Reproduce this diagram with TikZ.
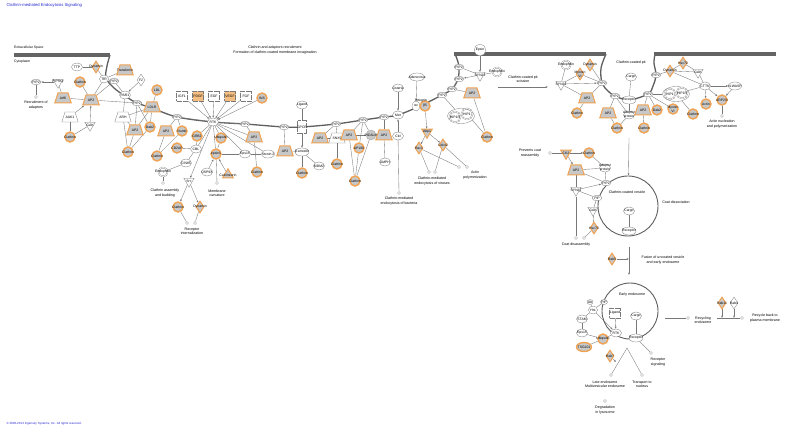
\documentclass[tikz,border=0pt]{standalone}
\usepackage{fontspec}
\setmainfont{Liberation Sans}
\usepackage{tikz}
\usetikzlibrary{positioning, arrows.meta, shapes.geometric, backgrounds}
\definecolor{orgC}{RGB}{240,162,82}
\definecolor{ligC}{RGB}{244,190,130}
\definecolor{gryC}{RGB}{200,200,200}
\definecolor{lineC}{RGB}{120,120,120}
\definecolor{memC}{RGB}{95,95,95}
\definecolor{barC}{RGB}{100,100,100}
\definecolor{ttlC}{RGB}{40,40,210}

\begin{document}
\begin{tikzpicture}[
  x=1pt, y=-1pt,
  font=\fontsize{3.4}{3.9}\selectfont,
  >={Latex[length=2.2pt,width=1.8pt]},
  lbl/.style={inner sep=0pt, align=center, text=black},
  note/.style={lbl, font=\fontsize{3.6}{4.4}\selectfont},
  pip/.style={ellipse, draw=lineC, line width=0.3pt, fill=white, minimum width=10pt, minimum height=5.5pt, inner sep=0pt, label={[lbl]center:#1}},
  pip/.default=PIP2,
  wcirc/.style={ellipse, draw=lineC, line width=0.3pt, fill=white, minimum width=11pt, minimum height=8pt, inner sep=0pt, label={[lbl]center:#1}},
  dcirc/.style={circle, draw=lineC, line width=0.3pt, double=white, double distance=0.7pt, minimum size=9pt, inner sep=0pt, label={[lbl]center:#1}},
  ocirc/.style={circle, draw=orgC, line width=1.4pt, fill=gryC, minimum size=10pt, inner sep=0pt, label={[lbl]center:#1}},
  gcirc/.style={circle, draw=lineC!70, line width=0.3pt, fill=gryC, minimum size=10pt, inner sep=0pt, label={[lbl]center:#1}},
  otrap/.style={trapezium, trapezium left angle=72, trapezium right angle=72, draw=orgC, line width=1pt, fill=gryC, minimum width=9pt, minimum height=10pt, inner sep=1pt, label={[lbl]center:#1}},
  wtrap/.style={otrap=#1, draw=lineC, line width=0.3pt, fill=white},
  odiam/.style={diamond, draw=orgC, line width=1pt, fill=gryC, minimum width=8pt, minimum height=12pt, inner sep=0pt, label={[lbl]center:#1}},
  wdiam/.style={odiam=#1, draw=lineC, line width=0.3pt, fill=white},
  otri/.style={isosceles triangle, isosceles triangle apex angle=60, shape border rotate=270, draw=orgC, line width=1pt, fill=gryC, minimum width=10pt, minimum height=9pt, inner sep=1pt, label={[lbl]center:#1}},
  wtri/.style={otri=#1, draw=lineC, line width=0.3pt, fill=white},
  otriup/.style={otri=#1, shape border rotate=90},
  lig/.style={rectangle, draw=lineC, dash pattern=on 0.6pt off 0.6pt, line width=0.3pt, fill=white, minimum width=11pt, minimum height=10pt, inner sep=0pt, label={[lbl]center:#1}},
  olig/.style={lig=#1, fill=ligC},
  grp/.style={ellipse, draw=lineC, line width=0.3pt, fill=white},
  fn/.style={circle, draw=lineC, line width=0.3pt, fill=white, minimum size=3pt, inner sep=0pt},
  vesc/.style={circle, draw=memC, line width=0.9pt},
  memb/.style={draw=memC, line width=1.3pt},
  ln/.style={draw=lineC, line width=0.35pt},
  ar/.style={ln, ->}
]
\useasboundingbox (0,0) rectangle (787,430);
% title, compartments, footer
\node[anchor=west, text=ttlC, font=\fontsize{4.2}{5}\selectfont] (title) at (3,5) {Clathrin-mediated Endocytosis Signaling};
\node[anchor=west, text=ttlC, font=\fontsize{3}{4}\selectfont] (copy) at (3,424) {© 2000-2013 Ingenuity Systems, Inc. All rights reserved.};
\node[lbl, anchor=west] (ecs) at (14,48) {Extracellular Space};
\node[lbl, anchor=west] (cyt) at (14,62) {Cytoplasm};
\node[note] (head) at (275,50) {Clathrin and adaptors recruitment\\Formation of clathrin-coated membrane invagination};
\fill[barC] (14,53) rectangle (110,57);
\fill[barC] (454,52) rectangle (606,56);
\fill[barC] (654,52) rectangle (776,56);

% left: transferrin, PAR1, LDL
\node[wcirc=TTP] (ttp) at (77,67) {};
\node[odiam=Dynamin] (dynA) at (96,67) {};
\node[otrap=Transferrin, minimum width=13pt] (trf) at (125,70) {};
\node[wcirc=TfR, minimum width=9pt] (tfr) at (104,79) {};
\node[pip] (pipA) at (114,81) {};
\node[wdiam=F2] (f2) at (141,80) {};
\node[wcirc=PAR1] (par1) at (125,95) {};
\node[ocirc=LDL] (ldl) at (157,90) {};
\node[pip] (pipB) at (137,103) {};
\node[otrap=LDLR] (ldlr) at (152,107) {};
\node[wtrap=ARH] (arh) at (123,117) {};
\node[otrap=AP2] (ap2a) at (91,100) {};
\node[ocirc=Clathrin] (clA) at (80,82) {};
\node[otrap=Arf6] (arf6) at (63,98) {};
\node[wtri=PIP5Kγ] (pip5k) at (58,82) {};
\node[pip] (pipC) at (36,82) {};
\node[fn] (fnA) at (36,97) {};
\node[note] (recTxt) at (36,105) {Recruitment of\\adaptors};
\node[wtrap=AAK1] (aak1) at (70,117) {};
\node[wtri=GAK] (gakA) at (90,125) {};
\node[ocirc=Clathrin] (clB) at (70,137) {};
\node[otrap=AP2] (ap2b) at (135,130) {};
\node[ocirc=Dab2] (dab2a) at (150,127) {};
\node[ocirc=Clathrin] (clC) at (128,152) {};
\node[otrap=AP2] (ap2c) at (166,131) {};
\node[ocirc=Numb] (numb) at (182,131) {};
\node[ocirc=Clathrin] (clD) at (157,156) {};
\node[dcirc=Endophilin] (endoA) at (163,172) {};
\node[fn] (fnB) at (163,183) {};
\node[note] (asmTxt) at (165,193) {Clathrin assembly\\and budding};
\node[pip] (pipD) at (177,117) {};

% RTK and ligands
\node[wcirc=RTK] (rtk) at (213,122) {};
\node[lig=IGF1] (igf1) at (182,96) {};
\node[olig=PDGF] (pdgf) at (198,96) {};
\node[lig=EGF] (egf) at (214,96) {};
\node[olig=VEGF] (vegf) at (230,96) {};
\node[lig=FGF] (fgf) at (246,96) {};
\node[ocirc=INS] (ins) at (262,98) {};
\node[ocirc=GRB2] (grb2) at (197,136) {};
\node[ocirc=CD2AP] (cd2ap) at (177,148) {};
\node[wcirc=CBL] (cblA) at (196,149) {};
\node[wcirc=CIN85] (cin85) at (186,163) {};
\node[wtri=Src] (src) at (189,181) {};
\node[ocirc=Clathrin] (clE) at (178,207) {};
\node[odiam=Dynamin] (dynB) at (200,207) {};
\node[fn] (fnC) at (187,223) {};
\node[fn] (fnD) at (195,223) {};
\node[note] (intTxt) at (192,231) {Receptor\\internalization};
\node[ocirc=Ubiquitin] (ubq) at (221,138) {};
\node[ocirc=epsin1] (epsin1) at (216,154) {};
\node[wcirc=USP9X] (usp9x) at (207,172) {};
\node[otriup=Calcineurin] (calc) at (228,175) {};
\node[fn] (fnE) at (217,183) {};
\node[note] (curTxt) at (217,193) {Membrane\\curvature};
\node[wcirc=Eps15] (eps15a) at (245,154) {};
\node[wcirc=Stonin 2, minimum width=13pt] (ston) at (268,154) {};
\node[otrap=AP2] (ap2d) at (254,137) {};
\node[ocirc=Clathrin] (clF) at (257,172) {};
\node[pip] (pipE) at (245,124) {};

% GPCR
\node[pip] (pipF) at (284,127) {};
\node[lig=GPCR, minimum width=9pt, minimum height=13pt] (gpcr) at (302,127) {};
\node[wcirc=Ligand] (ligA) at (302,105) {};
\node[wcirc=β-arrestin, minimum width=14pt] (barr) at (302,152) {};
\node[otrap=AP2] (ap2e) at (285,151) {};
\node[ocirc=Clathrin] (clG) at (302,173) {};
\node[wcirc=MDM2] (mdm2) at (319,166) {};

% middle adaptors
\node[pip] (pipG) at (336,124) {};
\node[otrap=AP2] (ap2f) at (320,138) {};
\node[wtrap=SNX9] (snx9) at (337,138) {};
\node[otrap=AP2] (ap2g) at (349,135) {};
\node[ocirc=AP180] (ap180) at (359,148) {};
\node[gcirc=PICALM] (picalm) at (371,135) {};
\node[otrap=AP2] (ap2h) at (384,135) {};
\node[wcirc=AMPH] (amph) at (385,162) {};
\node[ocirc=Clathrin] (clH) at (337,164) {};
\node[ocirc=Clathrin] (clI) at (355,181) {};
\node[pip] (pipH) at (363,120) {};
\node[pip] (pipI) at (384,117) {};

% bacteria and viruses
\node[wcirc=Met] (met) at (398,115) {};
\node[wcirc=Listeria] (list) at (398,88) {};
\node[wcirc=Cbl] (cblB) at (398,136) {};
\node[fn] (fnF) at (399,193) {};
\node[note] (bacTxt) at (399,201) {Clathrin-mediated\\endocytosis of bacteria};
\node[wcirc=Adenovirus, minimum width=15pt] (adeno) at (417,77) {};
\node[wcirc=αv, minimum width=8pt, minimum height=10pt] (intav) at (416,106) {};
\node[ocirc=β5] (intb5) at (425,106) {};
\node[lbl] (intLab) at (421,101) {Integrin};
\node[otri=Abp1] (abp1) at (427,132) {};
\node[odiam=Rac1] (rac1) at (419,148) {};
\node[odiam=Cdc42] (cdc42) at (443,145) {};
\node[fn] (fnG) at (429,172) {};
\node[fn] (fnH) at (435,172) {};
\node[fn] (fnI) at (459,167) {};
\node[fn] (fnJ) at (467,167) {};
\node[note] (virTxt) at (432,181) {Clathrin-mediated\\endocytosis of viruses};
\node[note] (actTxt) at (475,175) {Actin\\polymerization};
\node[pip] (pipJ) at (442,95) {};
\node[pip] (pipK) at (452,89) {};
\node[pip] (pipL) at (459,79) {};
\node[pip] (pipM) at (459,67) {};
\node[wcirc=Epsin, minimum height=12pt] (epsT) at (480,50) {};
\node[wtri=SYNJ1] (synjA) at (480,75) {};
\node[dcirc=Endophilin] (endoB) at (497,72) {};
\node[otrap=AP2] (ap2i) at (472,93) {};
\node[grp, minimum width=27pt, minimum height=15pt] (hipG) at (461,116) {};
\node[dcirc=HIP1R, minimum size=11pt] (hip1r) at (455,117) {};
\node[dcirc=HIP1, minimum size=11pt] (hip1) at (467,114) {};
\node[ocirc=Clathrin] (clJ) at (487,137) {};

% pit scission
\coordinate (scS) at (498,87);
\coordinate (scE) at (548,87);
\node[note] (sciTxt) at (523,79) {Clathrin-coated pit\\scission};
\node[dcirc=Endophilin] (endoC) at (566,65) {};
\node[odiam=Dynamin] (dynC) at (590,65) {};
\node[odiam={Myosin\\VI}] (myoA) at (580,74) {};
\node[wtri=SYNJ1] (synjB) at (561,84) {};
\node[pip] (pipN) at (602,83) {};
\node[otrap=AP2] (ap2j) at (587,98) {};
\node[ocirc=Clathrin] (clK) at (577,113) {};
\node[note] (pitTxt) at (631,63) {Clathrin-coated pit};
\node[wcirc=Cargo] (cargoA) at (631,77) {};
\node[pip] (pipO) at (615,96) {};
\node[wcirc=Receptor, minimum width=14pt] (recA) at (629,100) {};
\node[otrap=AP2] (ap2k) at (608,113) {};
\node[wcirc={Adaptor\\protein}] (adapA) at (629,115) {};
\node[ocirc=Clathrin] (clL) at (617,128) {};
\node[pip] (pipP) at (648,94) {};
\node[otrap=AP2] (ap2l) at (643,110) {};
\node[ocirc=Dab2] (dab2b) at (657,110) {};
\node[ocirc={Myosin\\VI}] (myoB) at (673,109) {};
\node[ocirc=Clathrin] (clM) at (644,128) {};
\node[grp, minimum width=27pt, minimum height=15pt] (hipH) at (676,94) {};
\node[dcirc=HIP1, minimum size=11pt] (hip1b) at (670,94) {};
\node[dcirc=HIP1R, minimum size=11pt] (hip1rb) at (682,93) {};
\node[ocirc=Clathrin] (clN) at (693,114) {};
\node[ocirc=Actin] (actin) at (706,104) {};
\node[ocirc=ARP2/3] (arp) at (722,100) {};
\node[fn] (fnK) at (722,116) {};
\node[note] (nucTxt) at (722,124) {Actin nucleation\\and polymerization};
\node[wcirc=CTTN] (cttn) at (705,86) {};
\node[wcirc=N-WASP, minimum width=13pt] (nwasp) at (735,86) {};
\node[wtri=GAK] (gakB) at (698,72) {};
\node[odiam=Hsc70] (hscA) at (683,63) {};
\node[odiam=Dynamin] (dynD) at (670,71) {};
\node[pip] (pipQ) at (656,75) {};

% coated vesicle
\coordinate (vtop) at (629,138);
\node[vesc, minimum size=60pt] (ves) at (628,206) {};
\node[note] (cvTxt) at (627,192) {Clathrin-coated vesicle};
\node[note] (cdTxt) at (676,202) {Coat dissociation};
\node[note] (prvTxt) at (530,153) {Prevents coat\\reassembly};
\node[fn] (fnL) at (550,153) {};
\node[otri=CK2] (ck2) at (566,153) {};
\node[ocirc=Clathrin] (clO) at (589,153) {};
\node[otrap=AP2] (ap2m) at (576,170) {};
\node[wcirc={Adaptor\\protein}] (adapB) at (605,168) {};
\node[pip] (pipR) at (606,183) {};
\node[wtri=SYNJ1] (synjC) at (576,190) {};
\node[pip=PIP] (pipS) at (597,198) {};
\node[wtri=GAK] (gakC) at (593,210) {};
\node[odiam=Hsc70] (hscB) at (594,228) {};
\node[wcirc=Cargo] (cargoB) at (629,211) {};
\node[wcirc=Receptor, minimum width=14pt] (recB) at (629,231) {};
\node[fn] (fnM) at (576,238) {};
\node[fn] (fnN) at (584,238) {};
\node[note] (cdaTxt) at (576,245) {Coat disassembly};
\coordinate (fusS) at (629,247);
\coordinate (fusM) at (629,259);
\coordinate (fusE) at (629,275);
\node[odiam=Rab5] (rab5) at (612,259) {};
\node[note] (fusTxt) at (663,260) {Fusion of uncoated vesicle\\and early endosome};

% early endosome
\node[vesc, minimum size=56pt] (endo) at (630,311) {};
\node[note] (eeTxt) at (632,295) {Early endosome};
\node[lig=Ligand] (ligB) at (615,313) {};
\node[wcirc=Cargo] (cargoC) at (636,316) {};
\node[wcirc=RTK] (rtkB) at (616,333) {};
\node[wcirc=Receptor, minimum width=14pt] (recC) at (636,338) {};
\node[wcirc=Ub, minimum width=6pt, minimum height=5pt] (ub) at (590,302) {};
\node[wcirc=PIP, minimum width=7pt, minimum height=5pt] (pipT) at (604,302) {};
\node[wcirc=Hrs, minimum width=9pt] (hrs) at (593,310) {};
\node[wcirc=STAM] (stam) at (582,319) {};
\node[wcirc=Eps15] (eps15b) at (582,333) {};
\node[ocirc=Ubiquitin] (ubqB) at (603,339) {};
\node[ocirc=TSG101, ellipse, minimum width=15pt, minimum height=9pt] (tsg) at (584,347) {};
\node[odiam=Rab7] (rab7) at (610,356) {};
\coordinate (rab7t) at (616,362);
\coordinate (jn) at (627,348);
\node[fn] (fnO) at (611,375) {};
\node[note] (lateTxt) at (605,384) {Late endosome\\Multivesicular endosome};
\node[fn] (fnP) at (605,401) {};
\node[note] (degTxt) at (605,410) {Degradation\\in lysosome};
\node[fn] (fnQ) at (642,375) {};
\node[note] (trnTxt) at (642,384) {Transport to\\nucleus};
\node[fn] (fnR) at (651,353) {};
\node[note] (sigTxt) at (658,362) {Receptor\\signaling};
\coordinate (rcyS) at (665,318);
\node[fn] (fnS) at (688,318) {};
\node[note] (rcyTxt) at (703,320) {Recycling\\endosome};
\node[odiam=Rab11] (rab11) at (722,303) {};
\node[wdiam=Rab4] (rab4) at (734,303) {};
\coordinate (rbkS) at (717,318);
\coordinate (r11t) at (722,318);
\coordinate (r4t) at (734,318);
\node[fn] (fnT) at (742,318) {};
\node[note] (rbkTxt) at (765,318) {Recycle back to\\plasma membrane};

\begin{scope}[on background layer]
\fill[white] (0,0) rectangle (787,430);
% membrane
\draw[memb] plot[smooth, tension=0.55] coordinates {(110,55) (107,66) (106,78) (114,88) (125,96) (137,103) (152,108) (177,117) (213,122) (245,124) (284,127) (302,127) (336,124) (363,120) (384,117) (398,115) (420,106) (442,95) (452,89) (458,79) (459,67) (457,59) (455,54)};
\draw[memb] plot[smooth, tension=0.55] coordinates {(606,54) (601,68) (602,83) (608,91) (615,96) (629,100) (648,94) (653,86) (656,75) (654,63) (655,54)};
% left
\draw[ar] (pip5k) -- (pipC);
\draw[ln] (pipC) -- (fnA);
\draw[ln] (arf6) -- (pip5k);
\foreach \n in {arf6,clA,tfr,pipA,pipB} \draw[ln] (ap2a) -- (\n);
\draw[ar] (aak1) -- (ap2a);
\draw[ar] (gakA) -- (ap2a);
\draw[ln] (clB) -- (aak1);
\draw[ln] (clB) -- (gakA);
\draw[ln] (ttp) -- (dynA);
\draw[ln] (dynA) -- (tfr);
\draw[ln] (trf) -- (tfr);
\draw[ln] (tfr) -- (pipA);
\draw[ar] (f2) -- (par1);
\draw[ln] (par1) -- (pipA);
\draw[ln] (par1) -- (arh);
\draw[ln] (ldl) -- (ldlr);
\foreach \n in {arh,dab2a,ap2b} \draw[ln] (ldlr) -- (\n);
\draw[ln] (arh) -- (ap2b);
\draw[ln] (arh) -- (clC);
\draw[ln] (pipB) -- (ap2b);
\draw[ln] (pipB) -- (dab2a);
\draw[ln] (ap2b) -- (clC);
\draw[ln] (dab2a) -- (clC);
\draw[ln] (ap2c) -- (clD);
\draw[ln] (numb) -- (clD);
\draw[ln] (pipD) -- (ap2c);
\draw[ln] (pipD) -- (numb);
\draw[ln] (endoA) -- (fnB);
% RTK
\foreach \g in {igf1,pdgf,egf,vegf,fgf,ins} \draw[ar] (\g) -- (rtk);
\foreach \n in {grb2,cblA,ubq,epsin1,eps15a,ap2d,ston,pipD,pipE} \draw[ln] (rtk) -- (\n);
\draw[ar] (rtk) -- (src);
\draw[ln] (grb2) -- (cblA);
\draw[ln] (cd2ap) -- (cblA);
\draw[ln] (cblA) -- (cin85);
\draw[ln] (cin85) -- (endoA);
\draw[ar] (src) -- (clE);
\draw[ar] (src) -- (dynB);
\draw[ln] (clE) -- (fnC);
\draw[ln] (dynB) -- (fnD);
\draw[ln] (epsin1) -- (ubq);
\draw[ln] (epsin1) -- (eps15a);
\draw[ar] (usp9x) -- (epsin1);
\draw[ar] (calc) -- (epsin1);
\draw[ln] (epsin1) -- (fnE);
\draw[ln] (eps15a) -- (ston);
\draw[ln] (pipE) -- (ap2d);
\draw[ln] (ap2d) -- (clF);
% GPCR
\draw[ln] (ligA) -- (gpcr);
\draw[ar] (gpcr) -- (barr);
\foreach \n in {ap2e,clG,mdm2} \draw[ln] (barr) -- (\n);
\draw[ln] (pipF) -- (ap2e);
% middle
\draw[ln] (pipG) -- (ap2f);
\draw[ln] (pipG) -- (snx9);
\draw[ln] (ap2f) -- (snx9);
\draw[ln] (snx9) -- (clH);
\foreach \n in {ap2g,ap180,picalm} \draw[ln] (pipH) -- (\n);
\foreach \n in {ap2g,ap180,picalm} \draw[ln] (\n) -- (clI);
\draw[ln] (ap2g) -- (picalm);
\draw[ln] (pipI) -- (ap2h);
\draw[ln] (ap2h) -- (amph);
\draw[ar] (list) -- (met);
\draw[ar] (cblB) -- (met);
\draw[ln] (cblB) -- (fnF);
\draw[ar] (adeno) -- (intav);
\draw[ar] (intb5) -- (abp1);
\draw[ar] (abp1) -- (rac1);
\draw[ar] (abp1) -- (cdc42);
\draw[ln] (rac1) -- (fnG);
\draw[ln] (rac1) -- (fnI);
\draw[ln] (cdc42) -- (fnH);
\draw[ln] (cdc42) -- (fnJ);
\draw[ln] (pipJ) -- (hipG);
\draw[ln] (pipK) -- (ap2i);
\draw[ln] (pipK) -- (pipL);
\draw[ln] (ap2i) -- (clJ);
\draw[ln] (hip1) -- (clJ);
\draw[ar] (synjA) -- (pipL);
\draw[ln] (synjA) -- (endoB);
\draw[ar] (epsT) -- (synjA);
\draw[ln] (pipM) -- (synjA);
% pit
\draw[ar] (scS) -- (scE);
\draw[ln] (endoC) -- (synjB);
\draw[ln] (myoA) -- (synjB);
\draw[ar] (synjB) -- (pipN);
\draw[ln] (synjB) -- (ap2j);
\draw[ln] (dynC) -- (pipN);
\draw[ln] (myoA) -- (pipN);
\draw[ln] (pipN) -- (ap2j);
\draw[ln] (ap2j) -- (clK);
\draw[ln] (pipO) -- (ap2k);
\draw[ln] (pipO) -- (adapA);
\draw[ln] (ap2k) -- (clL);
\draw[ln] (adapA) -- (clL);
\draw[ln] (cargoA) -- (recA);
\draw[ln] (recA) -- (adapA);
\foreach \n in {ap2l,dab2b,myoB,hipH} \draw[ln] (pipP) -- (\n);
\draw[ln] (ap2l) -- (clM);
\draw[ln] (dynD) -- (pipQ);
\draw[ln] (dynD) -- (hscA);
\draw[ln] (dynD) -- (gakB);
\draw[ln] (hscA) -- (gakB);
\draw[ln] (dynD) -- (cttn);
\draw[ln] (gakB) -- (cttn);
\draw[ar] (cttn) -- (nwasp);
\draw[ar] (cttn) -- (arp);
\draw[ar] (nwasp) -- (arp);
\draw[ar] (cttn) -- (actin);
\draw[ln] (hipH) -- (cttn);
\draw[ln] (hipH) -- (clN);
\draw[ln] (arp) -- (fnK);
% vesicle
\draw[ar] (vtop) -- (ves);
\draw[ln] (fnL) -- (ck2);
\draw[ar] (ck2) -- (clO);
\draw[ar] (ck2) -- (ap2m);
\draw[ln] (ap2m) -- (adapB);
\draw[ln] (ap2m) -- (pipR);
\draw[ln] (clO) -- (adapB);
\draw[ln] (adapB) -- (pipR);
\draw[ln] (ap2m) -- (synjC);
\draw[ln] (synjC) -- (fnM);
\draw[ar] (synjC) -- (pipR);
\draw[ln] (synjC) -- (pipS);
\draw[ln] (pipS) -- (gakC);
\draw[ln] (gakC) -- (hscB);
\draw[ln] (hscB) -- (fnN);
\draw[ln] (cargoB) -- (recB);
\draw[ar] (fusS) -- (fusE);
\draw[ar] (rab5) -- (fusM);
% endosome
\draw[ln] (ub) -- (hrs);
\draw[ln] (pipT) -- (hrs);
\draw[ln] (hrs) -- (stam);
\draw[ar] (hrs) -- (rtkB);
\draw[ln] (stam) -- (eps15b);
\draw[ln] (eps15b) -- (ubqB);
\draw[ln] (ubqB) -- (tsg);
\draw[ln] (ubqB) -- (rtkB);
\draw[ar] (ligB) -- (rtkB);
\draw[ln] (cargoC) -- (recC);
\draw[ln] (recC) -- (fnR);
\draw[ln] (fnO) -- (jn) -- (fnQ);
\draw[ar] (rab7) -- (rab7t);
\draw[ln] (rcyS) -- (fnS);
\draw[ln] (rbkS) -- (fnT);
\draw[ar] (rab11) -- (r11t);
\draw[ar] (rab4) -- (r4t);
\end{scope}
\end{tikzpicture}
\end{document}
